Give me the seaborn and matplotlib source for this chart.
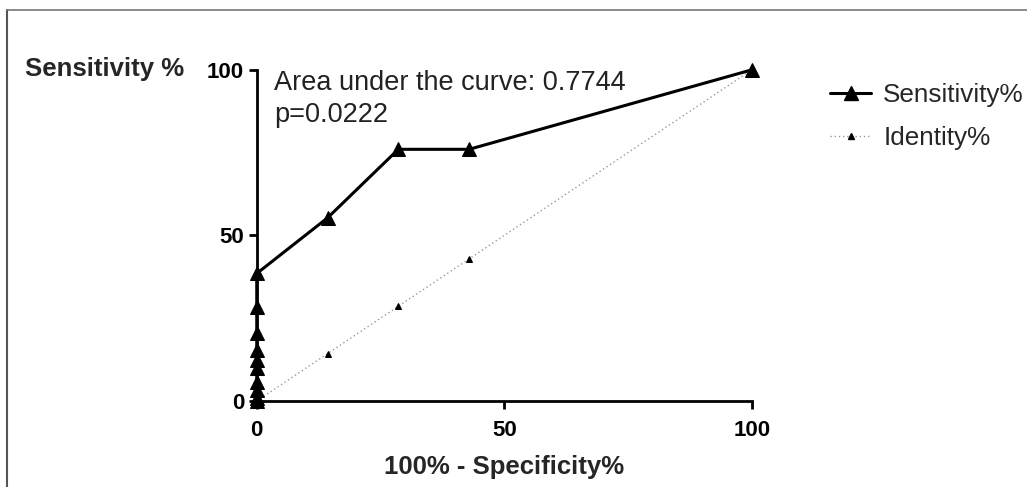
import matplotlib
matplotlib.use("Agg")
import matplotlib.pyplot as plt
import seaborn as sns
import pandas as pd
from matplotlib.lines import Line2D

# ROC data
fpr = [0, 0, 0, 0, 0, 0, 0, 0, 0, 0, 14.3, 28.6, 42.9, 100]
sensitivity = [0, 1, 3.3, 5.8, 10, 12.4, 15.4, 20.6, 28.5, 38.5, 55.3, 76, 76, 100]
identity_x = [0, 14.3, 28.6, 42.9, 100]
identity_y = [0, 14.3, 28.6, 42.9, 100]
auc_text = "Area under the curve: 0.7744\np=0.0222"

sns.set_theme(style="white")
plt.rcParams['font.family'] = ['Liberation Sans', 'DejaVu Sans']

fig = plt.figure(figsize=(10.27, 4.87), dpi=100)
ax = fig.add_axes([0.250, 0.1766, 0.482, 0.680])

roc = pd.DataFrame({'x': fpr, 'y': sensitivity})
ident = pd.DataFrame({'x': identity_x, 'y': identity_y})

sns.lineplot(data=ident, x='x', y='y', ax=ax, sort=False, estimator=None,
             color='#999999', linestyle=(0, (1, 2)), linewidth=1, marker='^',
             markersize=5, markerfacecolor='black', markeredgecolor='black',
             clip_on=False)
sns.lineplot(data=roc, x='x', y='y', ax=ax, sort=False, estimator=None,
             color='black', linewidth=2.2, marker='^', markersize=10,
             markeredgecolor='black', markerfacecolor='black', clip_on=False)

ax.set_xlim(0, 100)
ax.set_ylim(0, 100)
ax.set_xticks([0, 50, 100])
ax.set_yticks([0, 50, 100])
ax.tick_params(axis='both', direction='out', length=6, width=2, colors='black',
               labelsize=16, bottom=True, left=True)
ax.tick_params(axis='x', pad=8)
ax.tick_params(axis='y', pad=3)
for lab in ax.get_xticklabels() + ax.get_yticklabels():
    lab.set_fontweight('bold')
for side in ['top', 'right']:
    ax.spines[side].set_visible(False)
for side in ['left', 'bottom']:
    ax.spines[side].set_linewidth(2)
    ax.spines[side].set_color('black')

ax.set_xlabel('100% - Specificity%', fontsize=18.5, fontweight='bold', labelpad=10)
ax.set_ylabel('')
fig.text(0.024, 0.859, 'Sensitivity %', fontsize=18.5, fontweight='bold',
         ha='left', va='center')

ax.text(3.5, 100, auc_text, fontsize=19.5, ha='left', va='top',
        linespacing=1.3, color='#222222')

handles = [
    Line2D([], [], color='black', linewidth=2.2, marker='^', markersize=10),
    Line2D([], [], color='#999999', linestyle=(0, (1, 2)), linewidth=1,
           marker='^', markersize=5, markerfacecolor='black',
           markeredgecolor='black'),
]
fig.legend(handles, ['Sensitivity%', 'Identity%'], loc='upper left',
           bbox_to_anchor=(0.785, 0.878), frameon=False, fontsize=18.8,
           handlelength=1.6, labelspacing=0.72, handletextpad=0.45)

# grey frame on left and top
fig.add_artist(Line2D([0.007, 0.007], [0, 0.979], color='#555555', linewidth=1.5,
                      transform=fig.transFigure))
fig.add_artist(Line2D([0.007, 1], [0.979, 0.979], color='#777777', linewidth=1.2,
                      transform=fig.transFigure))

fig.savefig('out.png', dpi=100)
